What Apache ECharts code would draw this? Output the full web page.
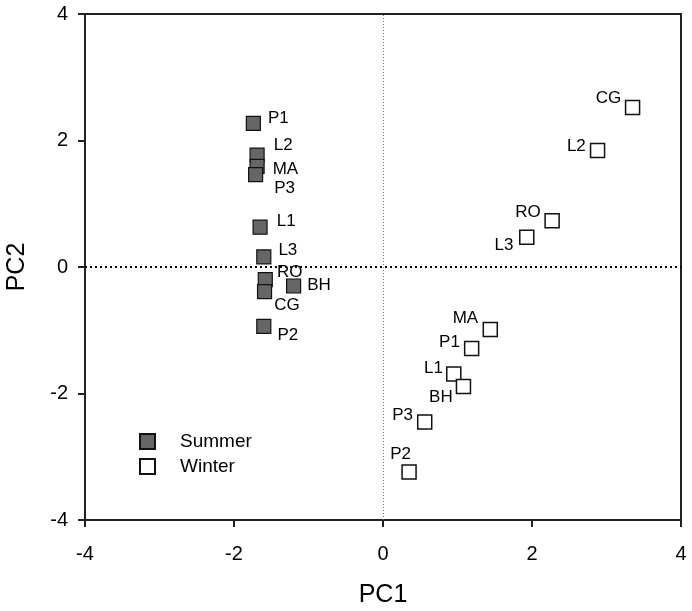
<!DOCTYPE html>
<html>
<head>
<meta charset="utf-8">
<script src="https://cdn.jsdelivr.net/npm/echarts@6/dist/echarts.min.js"></script>
<style>
html,body{margin:0;padding:0;background:#fff;}
#chart{width:692px;height:611px;}
</style>
</head>
<body>
<div id="chart"></div>
<script>
// ---- Data ----
const summerSites = ['P1','L2','MA','P3','L1','L3','RO','CG','BH','P2'];
const summerPC1   = [-1.74,-1.69,-1.69,-1.71,-1.65,-1.60,-1.58,-1.59,-1.20,-1.60];
const summerPC2   = [2.27, 1.77, 1.59, 1.46, 0.63, 0.16,-0.20,-0.39,-0.30,-0.94];

const winterSites = ['CG','L2','RO','L3','MA','P1','L1','BH','P3','P2'];
const winterPC1   = [3.35, 2.88, 2.27, 1.93, 1.44, 1.19, 0.95, 1.08, 0.56, 0.35];
const winterPC2   = [2.52, 1.84, 0.73, 0.47,-0.99,-1.29,-1.69,-1.89,-2.45,-3.24];

const axisTicks = [-4,-2,0,2,4];

// ---- Label placement (style only) ----
const summerLabelOffset = {
  P1:[7,-5], L2:[9,-10], MA:[8,3], P3:[11,14], L1:[9,-6],
  L3:[7,-7], RO:[4,-7], BH:[6,-1], CG:[2,14], P2:[6,9]
};
const winterLabelOffset = {
  CG:[-3.6,-9], L2:[-4,-4], RO:[-3.6,-9], L3:[-5.7,8], MA:[-4.4,-11],
  P1:[-4,-6.6], L1:[-3,-5.7], BH:[-3,10.6], P3:[-4,-6.7], P2:[9.7,-17.7]
};

const FONT = 'Arial, "Liberation Sans", sans-serif';

function build(sites, xs, ys, pos, offs) {
  return sites.map((s, i) => ({
    value: [xs[i], ys[i]],
    name: s,
    label: { show: true, position: pos, distance: 0, offset: offs[s], formatter: s }
  }));
}

const chart = echarts.init(document.getElementById('chart'), null, {renderer:'canvas'});
chart.setOption({
  animation: false,
  backgroundColor: '#fff',
  grid: { left: 85, top: 14, right: 11, bottom: 91, outerBoundsMode: 'none', containLabel: false,
          show: true, borderColor: '#222', borderWidth: 2, backgroundColor: 'transparent' },
  xAxis: {
    type: 'value', min: -4, max: 4, interval: 2,
    name: 'PC1', nameLocation: 'middle', nameGap: 63,
    nameTextStyle: { fontFamily: FONT, fontSize: 25, color: '#000' },
    axisLine: { show: true, onZero: false, lineStyle: { color: '#222', width: 2 } },
    axisTick: { show: true, length: 7, lineStyle: { color: '#222', width: 2 } },
    axisLabel: { fontFamily: FONT, fontSize: 20, color: '#000', margin: 24 },
    splitLine: { show: false }
  },
  yAxis: {
    type: 'value', min: -4, max: 4, interval: 2,
    name: 'PC2', nameLocation: 'middle', nameGap: 55,
    nameTextStyle: { fontFamily: FONT, fontSize: 25, color: '#000' },
    axisLine: { show: true, onZero: false, lineStyle: { color: '#222', width: 2 } },
    axisTick: { show: true, length: 7, lineStyle: { color: '#222', width: 2 } },
    axisLabel: { fontFamily: FONT, fontSize: 20, color: '#000', margin: 17 },
    splitLine: { show: false }
  },
  legend: {
    orient: 'vertical', left: 134, top: 427,
    itemWidth: 15, itemHeight: 15, itemGap: 6,
    icon: 'rect',
    textStyle: { fontFamily: FONT, fontSize: 19, color: '#000', padding: [0,0,0,20], lineHeight: 15 },
    data: ['Summer', 'Winter']
  },
  series: [
    {
      name: 'Summer', type: 'scatter', symbol: 'rect', symbolSize: 14, z: 3,
      itemStyle: { color: '#666666', borderColor: '#111', borderWidth: 1.2, opacity: 1 },
      label: { fontFamily: FONT, fontSize: 17, color: '#000' },
      emphasis: { disabled: true },
      data: build(summerSites, summerPC1, summerPC2, 'right', summerLabelOffset),
      markLine: {
        silent: true, symbol: 'none', animation: false, z: 1,
        label: { show: false },
        data: [
          { yAxis: 0, lineStyle: { color: '#000', width: 2, type: [2, 3] } },
          { xAxis: 0, lineStyle: { color: '#777', width: 1, type: [1, 2] } }
        ]
      }
    },
    {
      name: 'Winter', type: 'scatter', symbol: 'rect', symbolSize: 14, z: 3,
      itemStyle: { color: '#ffffff', borderColor: '#111', borderWidth: 1.5, opacity: 1 },
      label: { fontFamily: FONT, fontSize: 17, color: '#000' },
      emphasis: { disabled: true },
      data: build(winterSites, winterPC1, winterPC2, 'left', winterLabelOffset)
    }
  ]
});
</script>
</body>
</html>
